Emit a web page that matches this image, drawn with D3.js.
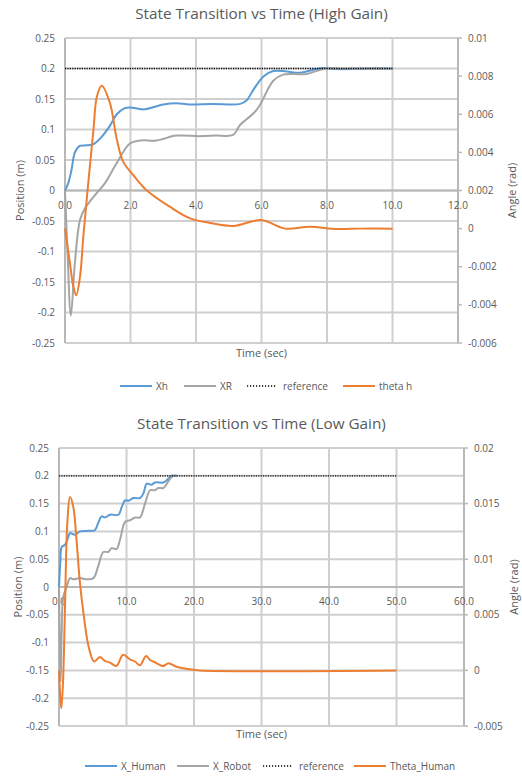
<!DOCTYPE html>
<html><head><meta charset="utf-8">
<script src="https://cdn.jsdelivr.net/npm/d3@7"></script>
<style>body{margin:0;background:#fff}svg{display:block;font-family:"Open Sans",sans-serif}</style>
</head><body><svg id="c" width="522" height="779"></svg>
<script>
// ---------- High gain data ----------
const highXh = [[0,0],[0.1,0.012],[0.2,0.034],[0.3,0.062],[0.45,0.073],[0.65,0.074],[0.87,0.076],[1.07,0.085],[1.37,0.106],[1.58,0.125],[1.83,0.135],[2.0,0.136],[2.4,0.133],[3.0,0.141],[3.4,0.143],[3.8,0.141],[4.5,0.142],[5.35,0.142],[5.55,0.148],[5.75,0.165],[6.06,0.187],[6.36,0.196],[6.77,0.195],[7.17,0.193],[7.58,0.198],[7.89,0.201],[8.3,0.199],[9.2,0.2],[10,0.2]];
const highXR = [[0,0],[0.07,-0.092],[0.18,-0.205],[0.3,-0.12],[0.46,-0.048],[0.61,-0.029],[0.76,-0.018],[0.97,-0.004],[1.22,0.012],[1.58,0.045],[1.98,0.077],[2.3,0.082],[2.8,0.082],[3.4,0.09],[4.1,0.089],[4.6,0.09],[5.13,0.091],[5.34,0.107],[5.85,0.132],[6.36,0.18],[6.66,0.19],[7.38,0.191],[7.94,0.2],[8.5,0.2],[10,0.2]];
const highRef = [[0,0.2],[10,0.2]];
const highTheta = [[0,0],[0.15,-0.0018],[0.25,-0.003],[0.34,-0.0035],[0.46,-0.0025],[0.56,-0.0004],[0.7,0.0022],[0.87,0.0052],[0.97,0.0069],[1.12,0.0075],[1.37,0.0066],[1.58,0.0047],[1.78,0.0035],[2.09,0.0028],[2.5,0.002],[3.2,0.00115],[3.82,0.00054],[4.43,0.0003],[5.14,0.00014],[5.99,0.00045],[6.72,0.0],[7.48,0.0001],[8.3,-0.00002],[9,0],[10,0]];
const highXTicks = [0,2,4,6,8,10,12];
const highXLabels = ["0.0","2.0","4.0","6.0","8.0","10.0","12.0"];
const highRightTicks = [0.01,0.008,0.006,0.004,0.002,0,-0.002,-0.004,-0.006];
const highRightLabels = ["0.01","0.008","0.006","0.004","0.002","0","-0.002","-0.004","-0.006"];

// ---------- Low gain data ----------
const lowXh = [[0,0],[0.2,0.045],[0.4,0.072],[0.9,0.076],[1.38,0.09],[1.63,0.097],[2.37,0.094],[3.1,0.1],[4.35,0.101],[5.3,0.102],[5.8,0.115],[6.3,0.127],[6.8,0.125],[7.55,0.13],[8.8,0.13],[9.3,0.144],[9.8,0.156],[10.3,0.155],[11,0.16],[12,0.16],[12.5,0.168],[13,0.186],[13.7,0.184],[14.2,0.188],[15.45,0.188],[15.95,0.192],[16.7,0.2],[17.5,0.2]];
const lowXR = [[0,0],[0.1,-0.09],[0.25,-0.17],[0.4,-0.08],[0.64,-0.017],[1.14,0.0],[1.63,0.016],[2.1,0.014],[3.1,0.016],[4.1,0.014],[5.1,0.016],[5.8,0.037],[6.57,0.063],[7.3,0.063],[7.8,0.07],[8.5,0.068],[9.04,0.085],[9.78,0.117],[10.5,0.12],[11.3,0.125],[12,0.125],[12.74,0.15],[13.5,0.174],[14.2,0.174],[14.7,0.178],[15.45,0.178],[16.2,0.19],[16.7,0.198],[17.4,0.2]];
const lowRef = [[0,0.2],[50,0.2]];
const lowTheta = [[0,0],[0.2,-0.0025],[0.35,-0.0034],[0.6,-0.001],[0.89,0.0057],[1.23,0.0132],[1.63,0.0156],[2.12,0.0147],[2.6,0.0117],[3.1,0.0079],[3.7,0.0048],[4.4,0.0021],[5.2,0.0008],[6.07,0.0012],[6.8,0.00085],[7.55,0.0007],[8.5,0.0004],[9.5,0.0014],[10.5,0.001],[11.26,0.0008],[12,0.00046],[12.9,0.0013],[13.5,0.00094],[14.2,0.00073],[15.45,0.0004],[16.2,0.00064],[17.4,0.00033],[19.4,0.0001],[20.9,0],[50,0]];
const lowXTicks = [0,10,20,30,40,50,60];
const lowXLabels = ["0.0","10.0","20.0","30.0","40.0","50.0","60.0"];
const lowRightTicks = [0.02,0.015,0.01,0.005,0,-0.005];
const lowRightLabels = ["0.02","0.015","0.01","0.005","0","-0.005"];

// shared
const posTicks = [0.25,0.2,0.15,0.1,0.05,0,-0.05,-0.1,-0.15,-0.2,-0.25];
const posLabels = ["0.25","0.2","0.15","0.1","0.05","0","-0.05","-0.1","-0.15","-0.2","-0.25"];
const highNames = ["Xh","XR","reference","theta h"];
const lowNames = ["X_Human","X_Robot","reference","Theta_Human"];
const colors = ["#5b9bd5","#a5a5a5","#000000","#ed7d31"];

const svg = d3.select("#c");
const textCol = "#595959";

function drawChart(cfg){
  const g = svg.append("g");
  const x = d3.scaleLinear().domain([cfg.xTicks[0], cfg.xTicks[cfg.xTicks.length-1]]).range([cfg.left, cfg.right]);
  const y = d3.scaleLinear().domain([-0.25,0.25]).range([cfg.bottom, cfg.top]);
  const yr = d3.scaleLinear().domain([cfg.rTicks[cfg.rTicks.length-1], cfg.rTicks[0]]).range([cfg.bottom, cfg.top]);

  g.append("text").attr("x", (cfg.left+cfg.right)/2).attr("y", cfg.titleY).attr("text-anchor","middle")
    .attr("font-size",15.3).attr("fill",textCol).text(cfg.title);

  // gridlines
  g.selectAll(".hg").data(posTicks).enter().append("line")
    .attr("x1",cfg.left).attr("x2",cfg.right).attr("y1",d=>y(d)).attr("y2",d=>y(d))
    .attr("stroke","#cfcfcf").attr("stroke-width",2);
  g.selectAll(".vg").data(cfg.xTicks.slice(1)).enter().append("line")
    .attr("x1",d=>x(d)).attr("x2",d=>x(d)).attr("y1",cfg.top).attr("y2",cfg.bottom)
    .attr("stroke","#cfcfcf").attr("stroke-width",2);
  // axis lines
  g.append("line").attr("x1",cfg.left).attr("x2",cfg.left).attr("y1",cfg.top).attr("y2",cfg.bottom).attr("stroke","#b8b8b8").attr("stroke-width",2);
  g.append("line").attr("x1",cfg.right).attr("x2",cfg.right).attr("y1",cfg.top).attr("y2",cfg.bottom).attr("stroke","#b8b8b8").attr("stroke-width",2);
  g.append("line").attr("x1",cfg.left).attr("x2",cfg.right).attr("y1",y(0)).attr("y2",y(0)).attr("stroke","#b8b8b8").attr("stroke-width",2);
  // right ticks
  g.selectAll(".rt").data(cfg.rTicks).enter().append("line")
    .attr("x1",cfg.right).attr("x2",cfg.right+4).attr("y1",d=>yr(d)).attr("y2",d=>yr(d)).attr("stroke","#b8b8b8").attr("stroke-width",1.5);

  // tick labels
  g.selectAll(".lt").data(posTicks).enter().append("text")
    .attr("x",cfg.left-10).attr("y",d=>y(d)+3.5).attr("text-anchor","end").attr("font-size",10).attr("fill",textCol)
    .text((d,i)=>posLabels[i]);
  g.selectAll(".rtl").data(cfg.rTicks).enter().append("text")
    .attr("x",cfg.right+10).attr("y",d=>yr(d)+3.5).attr("text-anchor","start").attr("font-size",10).attr("fill",textCol)
    .text((d,i)=>cfg.rLabels[i]);
  g.selectAll(".xt").data(cfg.xTicks).enter().append("text")
    .attr("x",d=>x(d)).attr("y",y(0)+18).attr("text-anchor","middle").attr("font-size",10).attr("fill",textCol)
    .text((d,i)=>cfg.xLabels[i]);

  // axis titles
  g.append("text").attr("x",(cfg.left+cfg.right)/2).attr("y",cfg.xTitleY).attr("text-anchor","middle")
    .attr("font-size",11).attr("fill",textCol).text("Time (sec)");
  g.append("text").attr("transform",`translate(${cfg.lTitleX},${(cfg.top+cfg.bottom)/2}) rotate(-90)`)
    .attr("text-anchor","middle").attr("font-size",11).attr("fill",textCol).text("Position (m)");
  g.append("text").attr("transform",`translate(${cfg.rTitleX},${(cfg.top+cfg.bottom)/2}) rotate(-90)`)
    .attr("text-anchor","middle").attr("font-size",11).attr("fill",textCol).text("Angle (rad)");

  // series
  const lineL = d3.line().x(d=>x(d[0])).y(d=>y(d[1])).curve(d3.curveCatmullRom.alpha(0.5));
  const lineR = d3.line().x(d=>x(d[0])).y(d=>yr(d[1])).curve(d3.curveCatmullRom.alpha(0.5));
  g.append("path").attr("d",lineL(cfg.series[0])).attr("fill","none").attr("stroke",colors[0]).attr("stroke-width",2);
  g.append("path").attr("d",lineL(cfg.series[1])).attr("fill","none").attr("stroke",colors[1]).attr("stroke-width",2);
  g.append("path").attr("d",lineL(cfg.series[2])).attr("fill","none").attr("stroke",colors[2]).attr("stroke-width",1.3).attr("stroke-dasharray","1.2,1.2");
  g.append("path").attr("d",lineR(cfg.series[3])).attr("fill","none").attr("stroke",colors[3]).attr("stroke-width",2);

  // legend
  cfg.names.forEach((n,i)=>{
    const lx = cfg.legendX[i];
    const ln = g.append("line").attr("x1",lx).attr("x2",lx+32).attr("y1",cfg.legendY).attr("y2",cfg.legendY)
      .attr("stroke",colors[i]).attr("stroke-width", i===2?1.3:2);
    if(i===2) ln.attr("stroke-dasharray","1.2,1.8").attr("x2",lx+29);
    g.append("text").attr("x",lx+36).attr("y",cfg.legendY+3.5).attr("font-size",10).attr("fill",textCol).text(n);
  });
}

drawChart({title:"State Transition vs Time (High Gain)", titleY:19, left:65, right:458, top:38, bottom:343,
  xTicks:highXTicks, xLabels:highXLabels, rTicks:highRightTicks, rLabels:highRightLabels,
  xTitleY:357, lTitleX:24, rTitleX:516, series:[highXh,highXR,highRef,highTheta], names:highNames,
  legendX:[120,184,247,343], legendY:386});
drawChart({title:"State Transition vs Time (Low Gain)", titleY:429, left:59, right:464, top:448, bottom:726,
  xTicks:lowXTicks, xLabels:lowXLabels, rTicks:lowRightTicks, rLabels:lowRightLabels,
  xTitleY:738, lTitleX:22, rTitleX:518, series:[lowXh,lowXR,lowRef,lowTheta], names:lowNames,
  legendX:[85,177,263,354], legendY:766});
</script></body></html>
